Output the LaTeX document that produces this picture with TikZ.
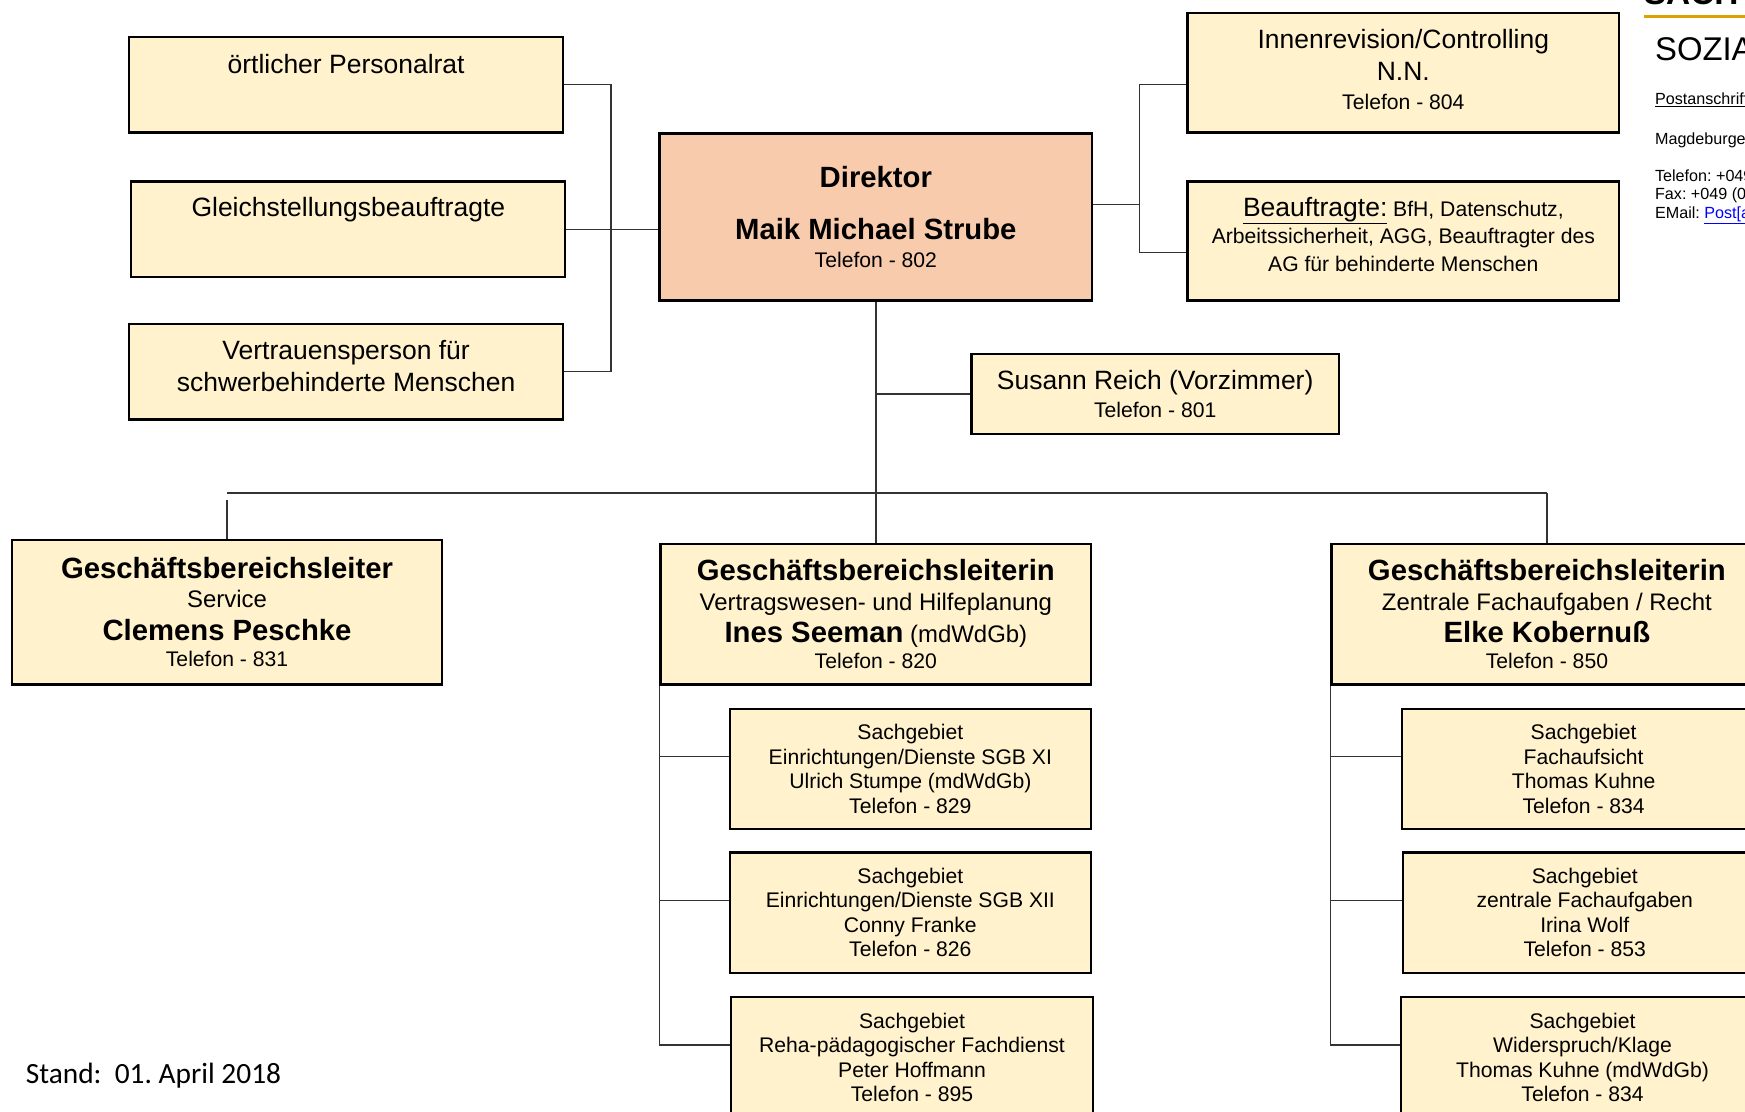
\documentclass[tikz,border=0pt]{standalone}
\usepackage{fontspec}
\setmainfont{Liberation Sans}
\newfontfamily\standfont{Carlito}
\frenchspacing
\setlength{\lineskiplimit}{-100pt}
\definecolor{boxyellow}{HTML}{FFF2CC}
\definecolor{boxsalmon}{HTML}{F8CBAD}
\definecolor{headgold}{HTML}{D9A400}
\definecolor{linkblue}{HTML}{0000FF}
\newcommand{\boxfont}{\fontsize{19}{22}\selectfont}
\newcommand{\fstitle}{\fontsize{26.3}{22}\selectfont\bfseries}
\newcommand{\fsunit}{\fontsize{21.5}{22}\selectfont}
\newcommand{\fslarge}{\fontsize{23.8}{22}\selectfont}
\newcommand{\fsaddr}{\fontsize{14.5}{16}\selectfont}
\begin{document}
\begin{tikzpicture}[x=1pt,y=-1pt,
    orgbox/.style={draw=black,line width=2pt,fill=boxyellow,align=center,inner sep=0pt,font=\boxfont},
    headbox/.style={orgbox,fill=boxsalmon},
    link/.style={line width=1.2pt,draw=black!80},
    headtext/.style={anchor=base west,inner sep=0pt}]
    \useasboundingbox (0,0) rectangle (1568,999.2);
    \clip (0,0) rectangle (1568,999.2);
    % stabsstellen links
    \node[orgbox,minimum width=390pt,minimum height=86pt,font=\fslarge,text depth=38pt] (pr) at (311,76) {örtlicher Personalrat};
    \node[orgbox,minimum width=390pt,minimum height=86pt,font=\fslarge,text depth=40pt] (gs) at (313,206) {Gleichstellungsbeauftragte};
    \node[orgbox,minimum width=390pt,minimum height=86pt,font=\fslarge,text depth=10pt] (vp) at (311,334) {Vertrauensperson für\\[7pt]schwerbehinderte Menschen};
    % direktor
    \node[headbox,minimum width=389pt,minimum height=150pt] (dir) at (787,195) {{\fstitle Direktor}\\[25pt]{\fstitle Maik Michael Strube}\\[3.5pt]Telefon - 802};
    % stabsstellen rechts
    \node[orgbox,minimum width=388pt,minimum height=107pt,text depth=6pt] (ir) at (1261,65.5) {{\fslarge Innenrevision/Controlling}\\[7pt]{\fslarge N.N.}\\[4.3pt]Telefon - 804};
    \node[orgbox,minimum width=388pt,minimum height=107pt,text depth=12pt] (bf) at (1261,216.5) {{\fslarge\underline{Beauftragte:}} BfH, Datenschutz,\\[2.5pt]Arbeitssicherheit, AGG, Beauftragter des\\[3pt]AG für behinderte Menschen};
    \node[orgbox,minimum width=330pt,minimum height=72pt] (sr) at (1038,354) {{\fslarge Susann Reich (Vorzimmer)}\\[3.3pt]Telefon - 801};
    % geschaeftsbereiche
    \node[orgbox,minimum width=387pt,minimum height=130pt] (gbl1) at (204,550) {{\fstitle Geschäftsbereichsleiter}\\[4.5pt]{\fsunit Service}\\[7.5pt]{\fstitle Clemens Peschke}\\[1.4pt]Telefon - 831};
    \node[orgbox,minimum width=387pt,minimum height=126pt] (gbl2) at (787,552) {{\fstitle Geschäftsbereichsleiterin}\\[4.5pt]{\fsunit Vertragswesen- und Hilfeplanung}\\[7pt]{\fstitle Ines Seeman}{\fsunit\ (mdWdGb)}\\[1.4pt]Telefon - 820};
    \node[orgbox,minimum width=387pt,minimum height=126pt] (gbl3) at (1390,552) {{\fstitle Geschäftsbereichsleiterin}\\[4.5pt]{\fsunit Zentrale Fachaufgaben / Recht}\\[7pt]{\fstitle Elke Kobernuß}\\[1.4pt]Telefon - 850};
    % sachgebiete
    \node[orgbox,minimum width=324pt,minimum height=108pt] (sg21) at (818,691) {Sachgebiet\\Einrichtungen/Dienste SGB XI\\Ulrich Stumpe (mdWdGb)\\Telefon - 829};
    \node[orgbox,minimum width=324pt,minimum height=108pt] (sg22) at (818,820) {Sachgebiet\\Einrichtungen/Dienste SGB XII\\Conny Franke\\Telefon - 826};
    \node[orgbox,minimum width=325pt,minimum height=108pt] (sg23) at (819.5,950) {Sachgebiet\\Reha-pädagogischer Fachdienst\\Peter Hoffmann\\Telefon - 895};
    \node[orgbox,minimum width=326pt,minimum height=108pt] (sg31) at (1423,691) {Sachgebiet\\Fachaufsicht\\Thomas Kuhne\\Telefon - 834};
    \node[orgbox,minimum width=326pt,minimum height=108pt] (sg32) at (1424,820) {Sachgebiet\\zentrale Fachaufgaben\\Irina Wolf\\Telefon - 853};
    \node[orgbox,minimum width=326pt,minimum height=108pt] (sg33) at (1422,950) {Sachgebiet\\Widerspruch/Klage\\Thomas Kuhne (mdWdGb)\\Telefon - 834};
    % verbindungen
    \coordinate (lj) at (549,206);
    \coordinate (rj) at (1024,184);
    \coordinate (rja) at (1024,76);
    \coordinate (rjb) at (1024,227);
    \coordinate (busl) at (204,443);
    \coordinate (busr) at (1390,443);
    \draw[link] (pr.east) -| (lj) |- (vp.east);
    \draw[link] (gs.east) -- (gs.east -| dir.west);
    \draw[link] (rj -| dir.east) -- (rj);
    \draw[link] (rja -| ir.west) -- (rja) -- (rjb) -- (rjb -| bf.west);
    \draw[link] (dir.south) -- (gbl2.north);
    \draw[link] (sr.west) -- (sr.west -| dir.south);
    \draw[link] (busl) -- (busr);
    \draw[link] ([yshift=-6pt]busl) -- (gbl1.north);
    \draw[link] (busr) -- (gbl3.north);
    \draw[link] (gbl2.south west) |- ([yshift=11pt]sg23.west);
    \draw[link] ([yshift=11pt]sg21.west) -- ([yshift=11pt]sg21.west -| gbl2.west);
    \draw[link] ([yshift=11pt]sg22.west) -- ([yshift=11pt]sg22.west -| gbl2.west);
    \draw[link] (gbl3.south west) |- ([yshift=11pt]sg33.west);
    \draw[link] ([yshift=11pt]sg31.west) -- ([yshift=11pt]sg31.west -| gbl3.west);
    \draw[link] ([yshift=11pt]sg32.west) -- ([yshift=11pt]sg32.west -| gbl3.west);
    % briefkopf
    \node[headtext,font=\fontsize{30}{30}\selectfont\bfseries] (kopf) at (1477,4) {SACH};
    \draw[headgold,line width=2.5pt] (1477,15) -- (1568,15);
    \node[headtext,font=\fontsize{29.5}{30}\selectfont] (amt) at (1487,54) {SOZIA};
    \node[headtext,font=\fsaddr] (post) at (1487,94) {\underline{Postanschrift}};
    \node[headtext,font=\fsaddr] (str) at (1487,129.5) {Magdeburger};
    \node[headtext,font=\fsaddr] (tel) at (1487,163) {Telefon: +049};
    \node[headtext,font=\fsaddr] (fax) at (1487,179.5) {Fax: +049 (0};
    \node[headtext,font=\fsaddr] (mail) at (1487,196) {EMail: {\color{linkblue}\underline{Post[a}}};
    % stand
    \node[headtext,font=\standfont\fontsize{26.4}{30}\selectfont] (stand) at (23,973.5) {Stand:\ \ 01. April 2018};
\end{tikzpicture}
\end{document}
